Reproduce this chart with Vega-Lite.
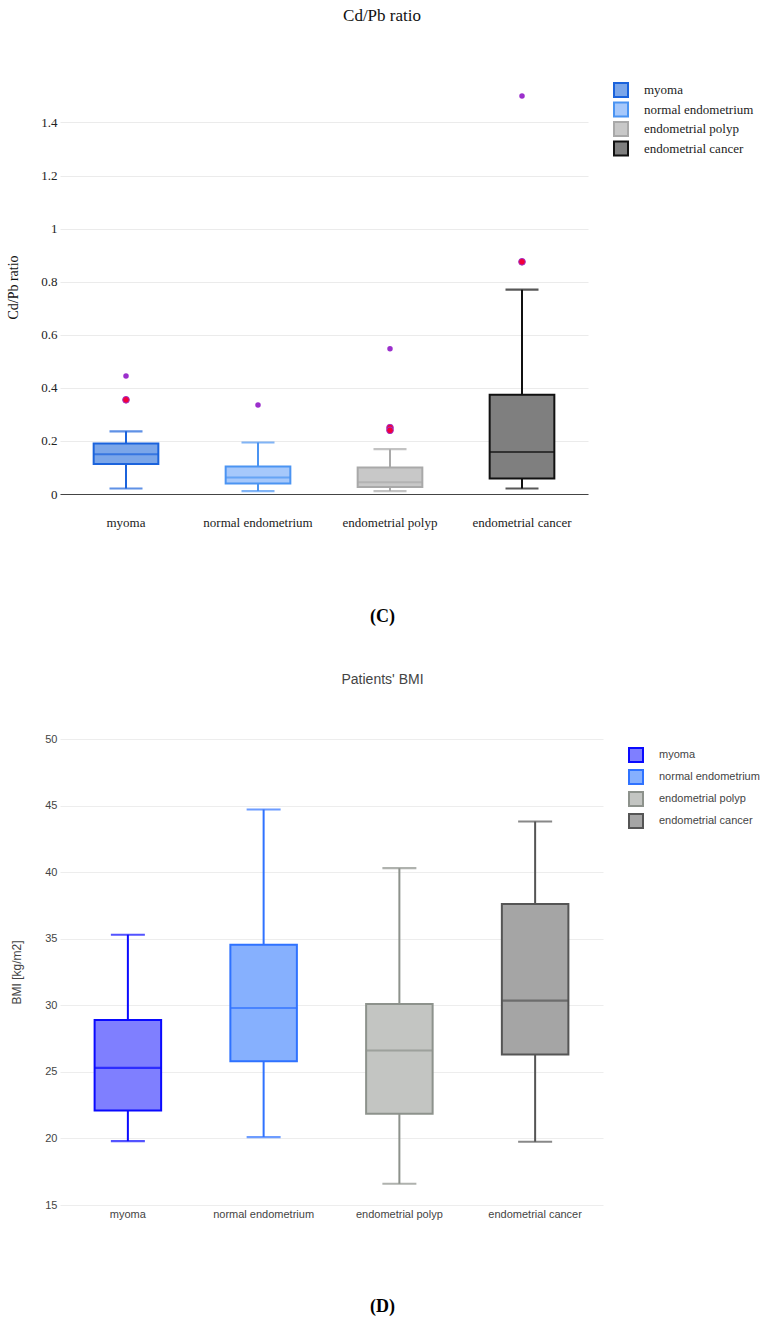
{
  "$schema": "https://vega.github.io/schema/vega-lite/v6.json",
  "background": "white",
  "padding": {"left": 6, "top": 7, "right": 5, "bottom": 5},
  "spacing": 48,
  "config": {"view": {"stroke": null}},
  "resolve": {
    "scale": {"fill": "independent", "stroke": "independent"},
    "legend": {"fill": "independent", "stroke": "independent"}
  },
  "datasets": {
    "cdpb": [
      {"group": "myoma", "lower": 0.021, "q1": 0.113, "median": 0.15, "q3": 0.19, "upper": 0.236},
      {"group": "normal endometrium", "lower": 0.011, "q1": 0.04, "median": 0.062, "q3": 0.104, "upper": 0.194},
      {"group": "endometrial polyp", "lower": 0.011, "q1": 0.026, "median": 0.044, "q3": 0.1, "upper": 0.169},
      {"group": "endometrial cancer", "lower": 0.021, "q1": 0.058, "median": 0.158, "q3": 0.374, "upper": 0.77}
    ],
    "cdpb_out": [
      {"group": "myoma", "value": 0.445, "kind": "regular"},
      {"group": "myoma", "value": 0.355, "kind": "suspected"},
      {"group": "normal endometrium", "value": 0.335, "kind": "regular"},
      {"group": "endometrial polyp", "value": 0.547, "kind": "regular"},
      {"group": "endometrial polyp", "value": 0.25, "kind": "suspected"},
      {"group": "endometrial polyp", "value": 0.24, "kind": "suspected"},
      {"group": "endometrial cancer", "value": 0.875, "kind": "suspected"},
      {"group": "endometrial cancer", "value": 1.5, "kind": "regular"}
    ],
    "bmi": [
      {"group": "myoma", "lower": 19.8, "q1": 22.1, "median": 25.3, "q3": 28.9, "upper": 35.3},
      {"group": "normal endometrium", "lower": 20.1, "q1": 25.8, "median": 29.8, "q3": 34.55, "upper": 44.7},
      {"group": "endometrial polyp", "lower": 16.6, "q1": 21.85, "median": 26.6, "q3": 30.1, "upper": 40.3},
      {"group": "endometrial cancer", "lower": 19.75, "q1": 26.3, "median": 30.35, "q3": 37.6, "upper": 43.8}
    ]
  },
  "vconcat": [
    {
      "width": 528,
      "height": 414,
      "title": {"text": "Cd/Pb ratio", "font": "Liberation Serif", "fontSize": 17, "fontWeight": "normal", "color": "#111", "anchor": "middle", "dx": 58, "offset": 55},
      "resolve": {"scale": {"fill": "shared", "stroke": "shared"}},
      "encoding": {
        "x": {"field": "group", "type": "nominal", "sort": ["myoma", "normal endometrium", "endometrial polyp", "endometrial cancer"],
          "scale": {"paddingInner": 0, "paddingOuter": 0},
          "axis": {"labelAngle": 0, "ticks": false, "domain": true, "domainColor": "#444", "domainWidth": 1, "labelPadding": 22, "labelFont": "Liberation Serif", "labelFontSize": 13, "labelColor": "#222",
            "title": "(C)", "titleFont": "Liberation Serif", "titleFontSize": 18, "titleFontWeight": "bold", "titleColor": "#000", "titlePadding": 78, "titleX": 322}}
      },
      "layer": [
        {
          "data": {"name": "cdpb"},
          "mark": {"type": "rule", "strokeWidth": 2},
          "encoding": {
            "y": {"field": "lower", "type": "quantitative", "scale": {"domain": [0, 1.56], "nice": false},
              "axis": {"values": [0, 0.2, 0.4, 0.6, 0.8, 1, 1.2, 1.4], "format": "~g", "grid": true, "gridColor": "#ebebeb", "domain": false, "ticks": false, "labelPadding": 3, "labelFont": "Liberation Serif", "labelFontSize": 13, "labelColor": "#222",
                "title": "Cd/Pb ratio", "titleFont": "Liberation Serif", "titleFontSize": 14, "titleFontWeight": "normal", "titleColor": "#111", "titlePadding": 20}},
            "y2": {"field": "upper"},
            "stroke": {"field": "group", "type": "nominal"}
          }
        },
        {
          "data": {"name": "cdpb"},
          "mark": {"type": "tick", "size": 31, "thickness": 0.1, "filled": false, "strokeWidth": 2},
          "encoding": {"y": {"field": "lower", "type": "quantitative"}, "stroke": {"field": "group", "type": "nominal"}}
        },
        {
          "data": {"name": "cdpb"},
          "mark": {"type": "tick", "size": 31, "thickness": 0.1, "filled": false, "strokeWidth": 2},
          "encoding": {"y": {"field": "upper", "type": "quantitative"}, "stroke": {"field": "group", "type": "nominal"}}
        },
        {
          "data": {"name": "cdpb"},
          "mark": {"type": "bar", "width": {"band": 0.49}, "strokeWidth": 2},
          "encoding": {
            "y": {"field": "q1", "type": "quantitative"},
            "y2": {"field": "q3"},
            "fill": {"field": "group", "type": "nominal", "scale": {"domain": ["myoma", "normal endometrium", "endometrial polyp", "endometrial cancer"], "range": ["#7ba6e9", "#a6c8fb", "#c8c8c8", "#7f7f7f"]},
              "legend": {"title": null, "orient": "none", "legendX": 553, "legendY": 2, "symbolType": "square", "symbolSize": 196, "symbolStrokeWidth": 2, "symbolOpacity": 1, "labelFont": "Liberation Serif", "labelFontSize": 13, "labelColor": "#222", "labelOffset": 15, "rowPadding": -2.5, "padding": 0,
                "encode": {"symbols": {"update": {"opacity": {"value": 1}, "fillOpacity": {"value": 1}}}}}},
            "stroke": {"field": "group", "type": "nominal", "scale": {"domain": ["myoma", "normal endometrium", "endometrial polyp", "endometrial cancer"], "range": ["#1b63dc", "#4b94f2", "#a9a9a9", "#111111"]},
              "legend": {"title": null, "orient": "none", "legendX": 553, "legendY": 2, "symbolType": "square", "symbolSize": 196, "symbolStrokeWidth": 2, "symbolOpacity": 1, "labelFont": "Liberation Serif", "labelFontSize": 13, "labelColor": "#222", "labelOffset": 15, "rowPadding": -2.5, "padding": 0,
                "encode": {"symbols": {"update": {"opacity": {"value": 1}, "fillOpacity": {"value": 1}}}}}}
          }
        },
        {
          "data": {"name": "cdpb"},
          "mark": {"type": "tick", "size": 63, "thickness": 0.1, "filled": false, "strokeWidth": 2},
          "encoding": {"y": {"field": "median", "type": "quantitative"}, "stroke": {"field": "group", "type": "nominal"}}
        },
        {
          "data": {"name": "cdpb_out"},
          "transform": [{"filter": "datum.kind === 'regular'"}],
          "mark": {"type": "circle", "size": 30, "color": "#9b2fcc", "opacity": 1},
          "encoding": {"y": {"field": "value", "type": "quantitative"}}
        },
        {
          "data": {"name": "cdpb_out"},
          "transform": [{"filter": "datum.kind === 'suspected'"}],
          "mark": {"type": "circle", "size": 45, "fill": "#f2003a", "stroke": "#a02ec8", "strokeWidth": 1, "opacity": 1},
          "encoding": {"y": {"field": "value", "type": "quantitative"}}
        }
      ]
    },
    {
      "width": 543,
      "height": 466,
      "data": {"name": "bmi"},
      "title": {"text": "Patients' BMI", "font": "Liberation Sans", "fontSize": 14, "fontWeight": "normal", "color": "#444", "anchor": "middle", "dx": 51, "offset": 46},
      "resolve": {"scale": {"fill": "shared", "stroke": "shared"}},
      "encoding": {
        "x": {"field": "group", "type": "nominal", "sort": ["myoma", "normal endometrium", "endometrial polyp", "endometrial cancer"],
          "scale": {"paddingInner": 0, "paddingOuter": 0},
          "axis": {"labelAngle": 0, "ticks": false, "domain": false, "labelPadding": 3, "labelFont": "Liberation Sans", "labelFontSize": 11, "labelColor": "#444",
            "title": "(D)", "titleFont": "Liberation Serif", "titleFontSize": 18, "titleFontWeight": "bold", "titleColor": "#000", "titlePadding": 78, "titleX": 322}}
      },
      "layer": [
        {
          "mark": {"type": "rule", "strokeWidth": 2},
          "encoding": {
            "y": {"field": "lower", "type": "quantitative", "scale": {"domain": [15, 50], "nice": false},
              "axis": {"values": [15, 20, 25, 30, 35, 40, 45, 50], "grid": true, "gridColor": "#ededed", "domain": false, "ticks": false, "labelPadding": 3, "labelFont": "Liberation Sans", "labelFontSize": 11, "labelColor": "#444",
                "title": "BMI [kg/m2]", "titleFont": "Liberation Sans", "titleFontSize": 12, "titleFontWeight": "normal", "titleColor": "#444", "titlePadding": 21}},
            "y2": {"field": "upper"},
            "stroke": {"field": "group", "type": "nominal"}
          }
        },
        {
          "mark": {"type": "tick", "size": 32, "thickness": 0.1, "filled": false, "strokeWidth": 2},
          "encoding": {"y": {"field": "lower", "type": "quantitative"}, "stroke": {"field": "group", "type": "nominal"}}
        },
        {
          "mark": {"type": "tick", "size": 32, "thickness": 0.1, "filled": false, "strokeWidth": 2},
          "encoding": {"y": {"field": "upper", "type": "quantitative"}, "stroke": {"field": "group", "type": "nominal"}}
        },
        {
          "mark": {"type": "bar", "width": {"band": 0.49}, "strokeWidth": 2},
          "encoding": {
            "y": {"field": "q1", "type": "quantitative"},
            "y2": {"field": "q3"},
            "fill": {"field": "group", "type": "nominal", "scale": {"domain": ["myoma", "normal endometrium", "endometrial polyp", "endometrial cancer"], "range": ["#7f7fff", "#86b0fe", "#c3c5c2", "#a5a5a5"]},
              "legend": {"title": null, "orient": "none", "legendX": 568, "legendY": 8, "symbolType": "square", "symbolSize": 196, "symbolStrokeWidth": 2, "symbolOpacity": 1, "labelFont": "Liberation Sans", "labelFontSize": 11, "labelColor": "#444", "labelOffset": 15, "rowPadding": 0, "padding": 0,
                "encode": {"symbols": {"update": {"opacity": {"value": 1}, "fillOpacity": {"value": 1}}}}}},
            "stroke": {"field": "group", "type": "nominal", "scale": {"domain": ["myoma", "normal endometrium", "endometrial polyp", "endometrial cancer"], "range": ["#0a0aff", "#2f72ff", "#8d928c", "#555555"]},
              "legend": {"title": null, "orient": "none", "legendX": 568, "legendY": 8, "symbolType": "square", "symbolSize": 196, "symbolStrokeWidth": 2, "symbolOpacity": 1, "labelFont": "Liberation Sans", "labelFontSize": 11, "labelColor": "#444", "labelOffset": 15, "rowPadding": 0, "padding": 0,
                "encode": {"symbols": {"update": {"opacity": {"value": 1}, "fillOpacity": {"value": 1}}}}}}
          }
        },
        {
          "mark": {"type": "tick", "size": 65, "thickness": 0.1, "filled": false, "strokeWidth": 2},
          "encoding": {"y": {"field": "median", "type": "quantitative"}, "stroke": {"field": "group", "type": "nominal"}}
        }
      ]
    }
  ]
}
